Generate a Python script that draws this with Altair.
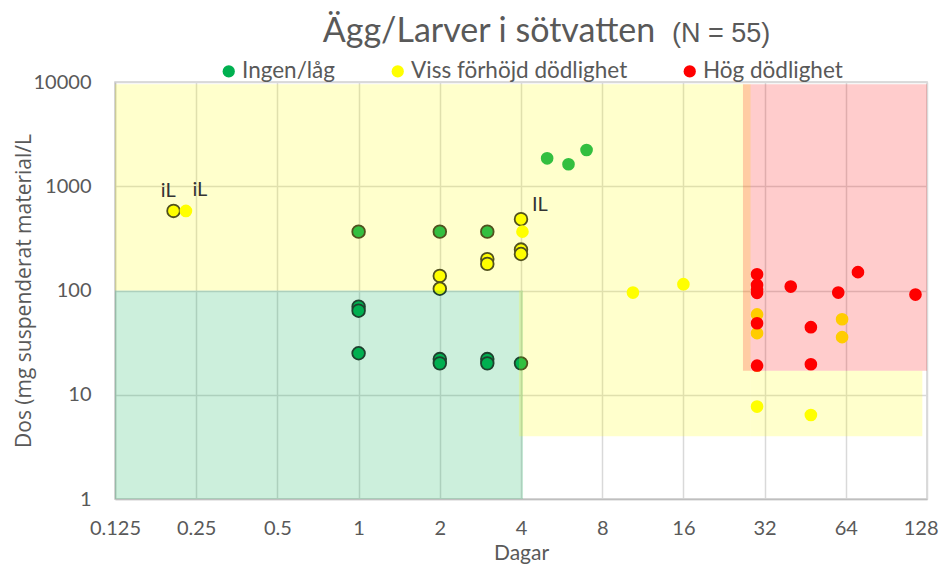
import altair as alt
import pandas as pd

# ---------------- data ----------------
gron_kontur_dagar = [1, 1, 1, 1, 2, 2, 2, 3, 3, 3, 4]
gron_kontur_dos = [367, 70, 64, 25, 367, 22, 20, 367, 22, 20, 20]
gron_dagar = [5, 6, 7]
gron_dos = [1854, 1626, 2228]
gul_kontur_dagar = [0.206, 4, 4, 4, 3, 3, 2, 2]
gul_kontur_dos = [580, 483, 247, 224, 200, 180, 138, 104]
gul_dagar = [0.229, 4.05, 10.4, 16, 30, 47.5, 30, 30, 62, 62]
gul_dos = [580, 367, 95.5, 115, 7.7, 6.4, 59, 39, 53, 35.7]
rod_dagar = [30, 30, 30, 30, 30, 30, 40, 47.5, 47.5, 60, 71, 116]
rod_dos = [143, 113, 102, 95, 48.5, 19, 109, 44.5, 19.6, 95.5, 150, 91.4]

kategorier = ["Ingen/låg", "Viss förhöjd dödlighet", "Hög dödlighet"]
farger = ["#00B050", "#FFFF00", "#FF0000"]

# background zones (drawn semi-transparent on top, as in the original)
zon_x = [0.125, 0.125, 3.93, 28.4, 26.6]
zon_x2 = [4.07, 28.4, 28.4, 123, 128]
zon_y = [1, 100, 4, 4, 17]
zon_y2 = [100, 9500, 100, 17, 9500]
zon_farg = ["#00B050", "#FFFF00", "#FFFF00", "#FFFF00", "#FF0000"]

etiketter = ["iL", "iL", "IL"]
etikett_x = [0.197, 0.258, 4.7]
etikett_y = [902, 920, 662]

x_ticks = [0.125, 0.25, 0.5, 1, 2, 4, 8, 16, 32, 64, 128]
y_ticks = [1, 10, 100, 1000, 10000]

titel = "Ägg/Larver i sötvatten"
titel_n = "(N = 55)"

# ---------------- tables ----------------
rows = []
for d, v in zip(gron_kontur_dagar, gron_kontur_dos):
    rows.append({"dagar": d, "dos": v, "kategori": kategorier[0], "kontur": True})
for d, v in zip(gron_dagar, gron_dos):
    rows.append({"dagar": d, "dos": v, "kategori": kategorier[0], "kontur": False})
for d, v in zip(gul_kontur_dagar, gul_kontur_dos):
    rows.append({"dagar": d, "dos": v, "kategori": kategorier[1], "kontur": True})
for d, v in zip(gul_dagar, gul_dos):
    rows.append({"dagar": d, "dos": v, "kategori": kategorier[1], "kontur": False})
for d, v in zip(rod_dagar, rod_dos):
    rows.append({"dagar": d, "dos": v, "kategori": kategorier[2], "kontur": False})
df_p = pd.DataFrame(rows)

df_z = pd.DataFrame({"dagar": zon_x, "dagar2": zon_x2, "dos": zon_y, "dos2": zon_y2, "farg": zon_farg})
df_e = pd.DataFrame({"dagar": etikett_x, "dos": etikett_y, "t": etiketter})

FONT = "Lato"
TFONT = "Open Sans"
GREY = "#595959"

xs = alt.Scale(type="log", base=2, domain=[0.125, 128], nice=False)
ys = alt.Scale(type="log", base=10, domain=[1, 10000], nice=False)

x_axis = alt.Axis(values=x_ticks, format=".3~f", title="Dagar", ticks=False,
                  labelPadding=19, labelFontSize=20, labelColor=GREY, labelFont=FONT,
                  labelAlign={"condition": {"test": "datum.value == 128", "value": "right"}, "value": "center"},
                  labelOffset={"condition": {"test": "datum.value == 128", "value": 11}, "value": 0},
                  titleFontSize=21, titleColor=GREY, titleFont=FONT, titleFontWeight="normal",
                  titlePadding=4, domainColor="#BFBFBF", domainWidth=1.5, labelFlush=False)
y_axis = alt.Axis(values=y_ticks, format="d", title="Dos (mg suspenderat material/L", ticks=False,
                  labelPadding=24, labelFontSize=20, labelColor=GREY, labelFont=FONT,
                  titleFontSize=21, titleColor=GREY, titleFont=TFONT, titleFontWeight="normal",
                  titleX=-85, titleBaseline="alphabetic",
                  domainColor="#BFBFBF", domainWidth=1.5)

X = alt.X("dagar:Q", scale=xs, axis=x_axis)
Y = alt.Y("dos:Q", scale=ys, axis=y_axis)

punkter = alt.Chart(df_p).mark_point(filled=True, size=160, opacity=1, stroke="#262626").encode(
    x=X,
    y=Y,
    color=alt.Color("kategori:N", scale=alt.Scale(domain=kategorier, range=farger),
                    legend=alt.Legend(orient="none", legendX=102.5, legendY=-22, direction="horizontal",
                                      title=None, labelFont=FONT, labelFontSize=22.5, labelColor=GREY,
                                      labelLimit=400,
                                      symbolType="circle", symbolSize=150, symbolStrokeWidth=0,
                                      columnPadding=51, labelOffset=2, padding=0)),
    strokeWidth=alt.condition("datum.kontur", alt.value(1.8), alt.value(0)),
)

zoner = alt.Chart(df_z).mark_rect(fillOpacity=0.2).encode(
    x=X,
    x2="dagar2",
    y=Y,
    y2="dos2",
    fill=alt.Fill("farg:N", scale=None),
)

etiketter_lager = alt.Chart(df_e).mark_text(font=FONT, fontSize=20, color="#333333").encode(
    x=X,
    y=Y,
    text="t:N",
)

titel_lager = alt.Chart(alt.Data(values=[{}])).mark_text(
    font=FONT, fontSize=34, color=GREY, align="center", baseline="alphabetic"
).encode(x=alt.value(374), y=alt.value(-40), text=alt.value(titel))

titel_n_lager = alt.Chart(alt.Data(values=[{}])).mark_text(
    font="Liberation Sans", fontSize=27, color=GREY, align="left", baseline="alphabetic"
).encode(x=alt.value(557), y=alt.value(-40), text=alt.value(titel_n))

chart = alt.layer(punkter, zoner, etiketter_lager, titel_lager, titel_n_lager).properties(
    width=812, height=417,
    padding={"left": 107, "top": 74, "right": 12, "bottom": 73},
    autosize=alt.AutoSizeParams(type="none"),
).configure_view(stroke="#D0D0D0", strokeWidth=1.5).configure_axis(
    gridColor="#D9D9D9", gridWidth=1.5
)

chart.save("out.html", embed_options={"renderer": "svg", "actions": False})
